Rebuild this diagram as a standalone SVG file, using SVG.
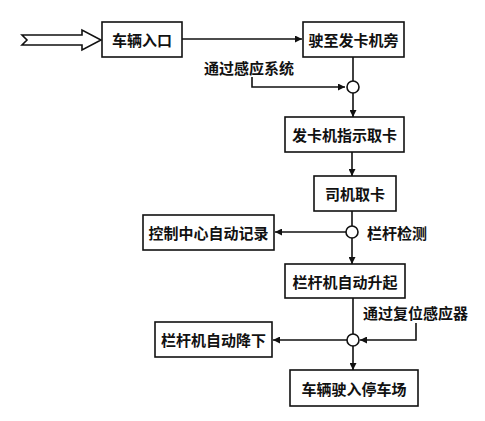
<svg xmlns="http://www.w3.org/2000/svg" width="485" height="421" viewBox="0 0 485 421">
<defs>
<marker id="ah" viewBox="0 0 10 10" refX="10" refY="5" markerWidth="9" markerHeight="7" markerUnits="userSpaceOnUse" orient="auto">
<path d="M0,0 L10,5 L0,10 Z" fill="#111"/>
</marker>
</defs>
<style>
.box{fill:#fff;stroke:#111;stroke-width:1.6}
.t{font-family:"Noto Sans CJK SC","Noto Sans",sans-serif;font-size:15px;font-weight:700;fill:#111;text-anchor:middle;dominant-baseline:central}
.lbl{font-family:"Noto Sans CJK SC","Noto Sans",sans-serif;font-size:15px;font-weight:700;fill:#111;dominant-baseline:central}
.ln{fill:none;stroke:#111;stroke-width:1.6}
.arr{fill:none;stroke:#111;stroke-width:1.6;marker-end:url(#ah)}
.jn{fill:#fff;stroke:#111;stroke-width:1.6}
</style>
<rect width="485" height="421" fill="#fff"/>
<g id="connectors">
<path class="ln" d="M22,35 L82,35 L82,30 L101,40 L82,50 L82,45 L22,45 L27,40 Z"/>
<path class="arr" d="M182,39 L302,39"/>
<path class="ln" d="M353,57 L353,81"/>
<path class="arr" d="M252,77 L252,87 L345,87"/>
<path class="arr" d="M353,93 L353,117"/>
<path class="arr" d="M352,152 L352,176"/>
<path class="ln" d="M352,211 L352,226"/>
<path class="arr" d="M346,232 L275,232"/>
<path class="arr" d="M352,238 L352,264"/>
<path class="ln" d="M353,298 L353,334"/>
<path class="arr" d="M416,323 L416,340 L360,340"/>
<path class="arr" d="M347,340 L273,340"/>
<path class="arr" d="M353,346 L353,370"/>
</g>
<g id="n1"><rect class="box" x="102" y="22" width="80" height="35"/><text class="t" x="142" y="39.5">车辆入口</text></g>
<g id="n2"><rect class="box" x="303" y="22" width="101" height="35"/><text class="t" x="353.5" y="39.5">驶至发卡机旁</text></g>
<g id="c1"><circle class="jn" cx="353" cy="87" r="6"/></g>
<g id="l1"><text class="lbl" x="204" y="67">通过感应系统</text></g>
<g id="n3"><rect class="box" x="285" y="117" width="119" height="35"/><text class="t" x="344.5" y="134.5">发卡机指示取卡</text></g>
<g id="n4"><rect class="box" x="314" y="176" width="82" height="35"/><text class="t" x="355" y="193.5">司机取卡</text></g>
<g id="c2"><circle class="jn" cx="352" cy="232" r="6"/></g>
<g id="l2"><text class="lbl" x="367" y="232">栏杆检测</text></g>
<g id="n5"><rect class="box" x="143" y="215" width="131" height="35"/><text class="t" x="208.5" y="232.5">控制中心自动记录</text></g>
<g id="n6"><rect class="box" x="285" y="264" width="120" height="34"/><text class="t" x="345" y="281">栏杆机自动升起</text></g>
<g id="l3"><text class="lbl" x="363" y="312">通过复位感应器</text></g>
<g id="c3"><circle class="jn" cx="353" cy="340" r="6"/></g>
<g id="n7"><rect class="box" x="155" y="322" width="117" height="35"/><text class="t" x="213.5" y="339.5">栏杆机自动降下</text></g>
<g id="n8"><rect class="box" x="290" y="370" width="128" height="36"/><text class="t" x="354" y="388">车辆驶入停车场</text></g>
</svg>
